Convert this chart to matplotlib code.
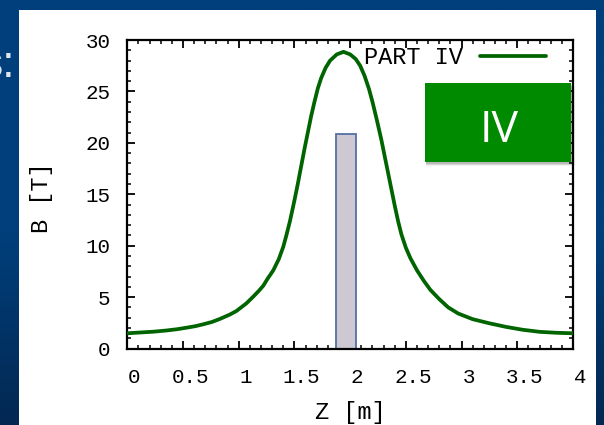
import matplotlib
matplotlib.use("Agg")
import matplotlib.pyplot as plt
import numpy as np
from matplotlib.patches import Rectangle
from matplotlib.ticker import MultipleLocator
from matplotlib.transforms import ScaledTranslation

# On-axis field profile B(z)
z_m = [0.00, 0.12, 0.23, 0.35, 0.45, 0.53, 0.61, 0.68, 0.76, 0.83,
       0.92, 0.98, 1.07, 1.13, 1.18, 1.22, 1.26, 1.31, 1.36, 1.40,
       1.43, 1.46, 1.50, 1.53, 1.56, 1.59, 1.62, 1.65, 1.68, 1.71,
       1.74, 1.78, 1.82, 1.88, 1.94, 2.00, 2.05, 2.09, 2.13, 2.17,
       2.20, 2.24, 2.28, 2.31, 2.34, 2.37, 2.40, 2.43, 2.46, 2.50,
       2.54, 2.60, 2.66, 2.72, 2.80, 2.88, 2.97, 3.10, 3.25, 3.40,
       3.55, 3.70, 3.85, 4.00]
b_tesla = [1.48, 1.56, 1.63, 1.75, 1.88, 2.02, 2.17, 2.35, 2.58, 2.87,
           3.30, 3.65, 4.40, 5.04, 5.60, 6.10, 6.80, 7.60, 8.70, 9.90,
           11.1, 12.4, 14.4, 16.0, 17.7, 19.4, 21.0, 22.6, 24.0, 25.3,
           26.3, 27.3, 28.0, 28.6, 28.85, 28.6, 28.15, 27.5, 26.5, 25.2,
           24.0, 22.2, 20.3, 18.7, 17.1, 15.5, 13.9, 12.4, 11.1, 9.8,
           8.8, 7.6, 6.6, 5.7, 4.8, 4.0, 3.4, 2.85, 2.45, 2.10,
           1.82, 1.62, 1.53, 1.48]

# Coil section (z range and height)
coil_z_start = 1.87
coil_z_end = 2.05
coil_height = 20.9

series_label = "PART IV"
box_label = "IV"
x_label = "Z [m]"
y_label = "B [T]"
x_ticks = [0, 0.5, 1, 1.5, 2, 2.5, 3, 3.5, 4]
x_tick_labels = ["0", "0.5", "1", "1.5", "2", "2.5", "3", "3.5", "4"]
y_ticks = [0, 5, 10, 15, 20, 25, 30]
y_tick_labels = ["0", "5", "10", "15", "20", "25", "30"]

MONO = "Liberation Mono"
plt.rcParams["font.family"] = [MONO, "DejaVu Sans"]

W, H = 604, 425
fig = plt.figure(figsize=(W / 100, H / 100), dpi=100)


def fx(px):
    return px / W


def fy(py):
    return 1 - py / H


# slide background: blue with darker lower part
bg = fig.add_axes([0, 0, 1, 1], zorder=-10)
rows = np.linspace(0, 1, 400)
top = np.array([0, 63, 123]) / 255
bottom = np.array([3, 40, 82]) / 255
t = np.clip((rows - 0.55) / 0.45, 0, 1)[:, None]
grad = top * (1 - t) + bottom * t
bg.imshow(grad[:, None, :], aspect="auto", extent=[0, 1, 0, 1])
bg.set_axis_off()

# white content panel
fig.add_artist(Rectangle((fx(19), 0), fx(596) - fx(19), fy(9.5),
                         facecolor="white", edgecolor="none",
                         transform=fig.transFigure, zorder=-5))

fig.text(fx(15), fy(77), "s:", ha="right", va="baseline", color="#dfe5ee",
         fontsize=32, family="Liberation Sans", zorder=-4)

# plot area
ax_l, ax_r, ax_t, ax_b = 127.3, 573.0, 40.0, 348.5
ax = fig.add_axes([fx(ax_l), fy(ax_b), (ax_r - ax_l) / W, (ax_b - ax_t) / H])
ax.set_facecolor("white")

ax.bar(coil_z_start, coil_height, width=coil_z_end - coil_z_start,
       align="edge", facecolor="#cdc8d2", edgecolor="#5570a5",
       linewidth=1.3, zorder=2)
ax.plot(z_m, b_tesla, color="#006400", linewidth=2.7, label=series_label,
        solid_joinstyle="round", solid_capstyle="round", zorder=3)

ax.set_xlim(0, 4)
ax.set_ylim(0, 30)
ax.set_xticks(x_ticks, x_tick_labels)
ax.set_yticks(y_ticks, y_tick_labels)
ax.xaxis.set_minor_locator(MultipleLocator(0.1))
ax.yaxis.set_minor_locator(MultipleLocator(1))
ax.tick_params(which="both", direction="in", top=True, right=True,
               color="black")
ax.tick_params(which="major", length=6, width=1.3, labelsize=15)
ax.tick_params(which="minor", length=3, width=1.1)
ax.tick_params(axis="x", pad=14)
ax.tick_params(axis="y", pad=12)
for s in ax.spines.values():
    s.set_linewidth(1.6)
    s.set_color("black")

shift = ScaledTranslation(7 / 100, 0, fig.dpi_scale_trans)
for lab in ax.get_xticklabels():
    lab.set_transform(lab.get_transform() + shift)

ax.set_xlabel(x_label, fontsize=17)
ax.xaxis.set_label_coords(0.5, (ax_b - 413.0) / (ax_b - ax_t))
ax.xaxis.label.set_verticalalignment("center")
ax.set_ylabel(y_label, fontsize=17)
ax.yaxis.set_label_coords((42 - ax_l) / (ax_r - ax_l), (ax_b - 198) / (ax_b - ax_t))
ax.yaxis.label.set_verticalalignment("center")

leg = ax.legend(loc="center right",
                bbox_to_anchor=((546 - ax_l) / (ax_r - ax_l),
                                (ax_b - 57.5) / (ax_b - ax_t)),
                markerfirst=False, frameon=False,
                prop={"family": MONO, "size": 17},
                handlelength=2.8, handletextpad=0.7,
                borderpad=0, borderaxespad=0)

# green section tag with soft shadow
bx0, bx1, by0, by1 = 425, 571, 82.7, 161.7
for k, a in [(4, 0.06), (3, 0.10), (2, 0.14)]:
    fig.add_artist(Rectangle((fx(bx0 + 1), fy(by1 + k)), (bx1 - bx0 + k - 1) / W,
                             (by1 - by0) / H, facecolor="black", alpha=a,
                             edgecolor="none", transform=fig.transFigure,
                             zorder=5))
fig.add_artist(Rectangle((fx(bx0), fy(by1)), (bx1 - bx0) / W, (by1 - by0) / H,
                         facecolor="#008a00", edgecolor="none",
                         transform=fig.transFigure, zorder=6))
fig.text(fx(499), fy(142), box_label, color="white", fontsize=32,
         family="Open Sans", ha="center", va="baseline", zorder=7)

fig.savefig("out.png", dpi=100)
